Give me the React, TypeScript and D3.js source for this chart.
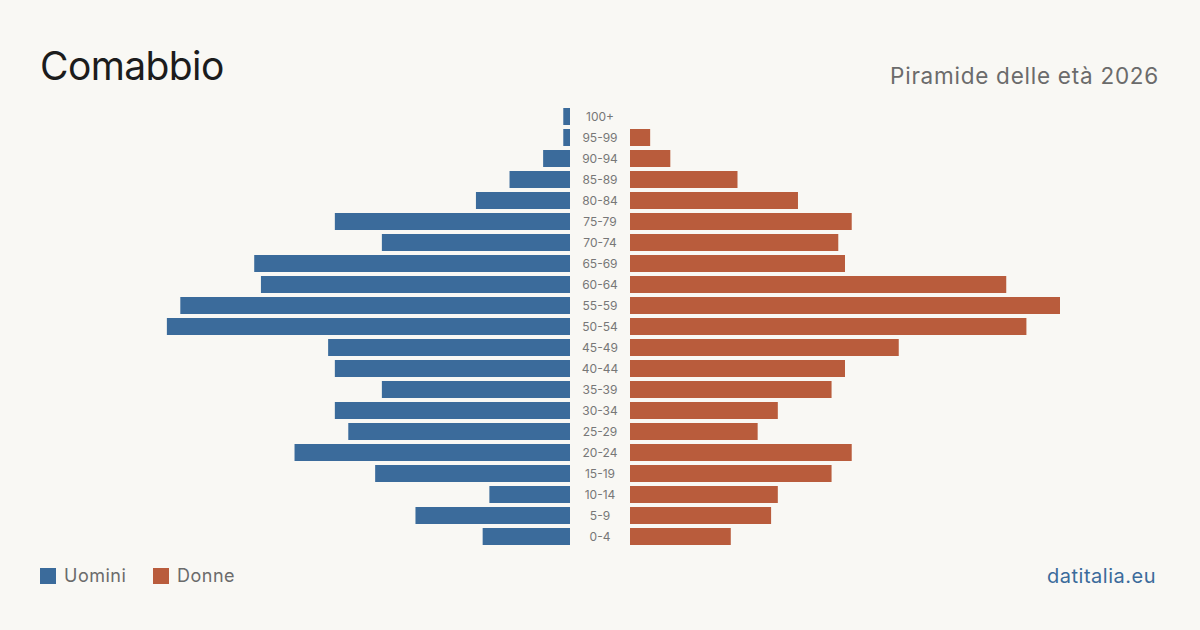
import React from 'react';
import * as d3 from 'd3';

// Age groups from youngest to oldest
const ageGroups = ['0-4', '5-9', '10-14', '15-19', '20-24', '25-29', '30-34', '35-39', '40-44', '45-49', '50-54', '55-59', '60-64', '65-69', '70-74', '75-79', '80-84', '85-89', '90-94', '95-99', '100+'];
const men = [13, 23, 12, 29, 41, 33, 35, 28, 35, 36, 60, 58, 46, 47, 28, 35, 14, 9, 4, 1, 1];
const women = [15, 21, 22, 30, 33, 19, 22, 30, 32, 40, 59, 64, 56, 32, 31, 33, 25, 16, 6, 3, 0];
const legendLabels = ['Uomini', 'Donne'];

const width = 1200;
const height = 630;
const BLUE = '#3b6b9b';
const ORANGE = '#b95c3c';
const FONT = 'Inter, "Noto Sans", sans-serif';

const App = () => {
    const centerX = 600;
    const gap = 30;
    const maxVal = d3.max([...men, ...women]) as number;

    const xLen = d3.scaleLinear().domain([0, maxVal]).range([0, 430]);

    // Oldest at the top
    const y = d3.scaleBand<string>()
        .domain([...ageGroups].reverse())
        .range([106, 547])
        .paddingInner(4 / 21)
        .paddingOuter(2 / 21);

    return (
        <svg width={width} height={height} style={{ display: 'block', position: 'absolute', left: 0, top: 0, background: '#f9f8f4' }}>
            <rect x={0} y={0} width={width} height={height} fill="#f9f8f4" />
            <text x={40} y={80} fontFamily={FONT} fontSize={39} letterSpacing={-0.6} fill="#1c1c1c">Comabbio</text>
            <text x={1159} y={84} textAnchor="end" fontFamily={FONT} fontSize={22.5} letterSpacing={0.75} fill="#6b6b6b">Piramide delle età 2026</text>

            {ageGroups.map((g, i) => (
                <g key={g}>
                    {men[i] > 0 && (
                        <rect x={centerX - gap - xLen(men[i])} y={y(g)} width={xLen(men[i])} height={y.bandwidth()} fill={BLUE} />
                    )}
                    {women[i] > 0 && (
                        <rect x={centerX + gap} y={y(g)} width={xLen(women[i])} height={y.bandwidth()} fill={ORANGE} />
                    )}
                    <text x={centerX} y={(y(g) as number) + y.bandwidth() / 2} dy="0.35em" textAnchor="middle"
                        fontFamily={FONT} fontSize={12} fill="#777">{g}</text>
                </g>
            ))}

            {legendLabels.map((l, i) => (
                <g key={l} transform={`translate(${40 + i * 113}, 568)`}>
                    <rect width={16} height={16} fill={i === 0 ? BLUE : ORANGE} />
                    <text x={24} y={8} dy="0.35em" fontFamily={FONT} fontSize={18} letterSpacing={0.5} fill="#6b6b6b">{l}</text>
                </g>
            ))}

            <text x={1156} y={583} textAnchor="end" fontFamily={FONT} fontSize={20} letterSpacing={0.5} fill={BLUE}>datitalia.eu</text>
        </svg>
    );
};

export default App;
